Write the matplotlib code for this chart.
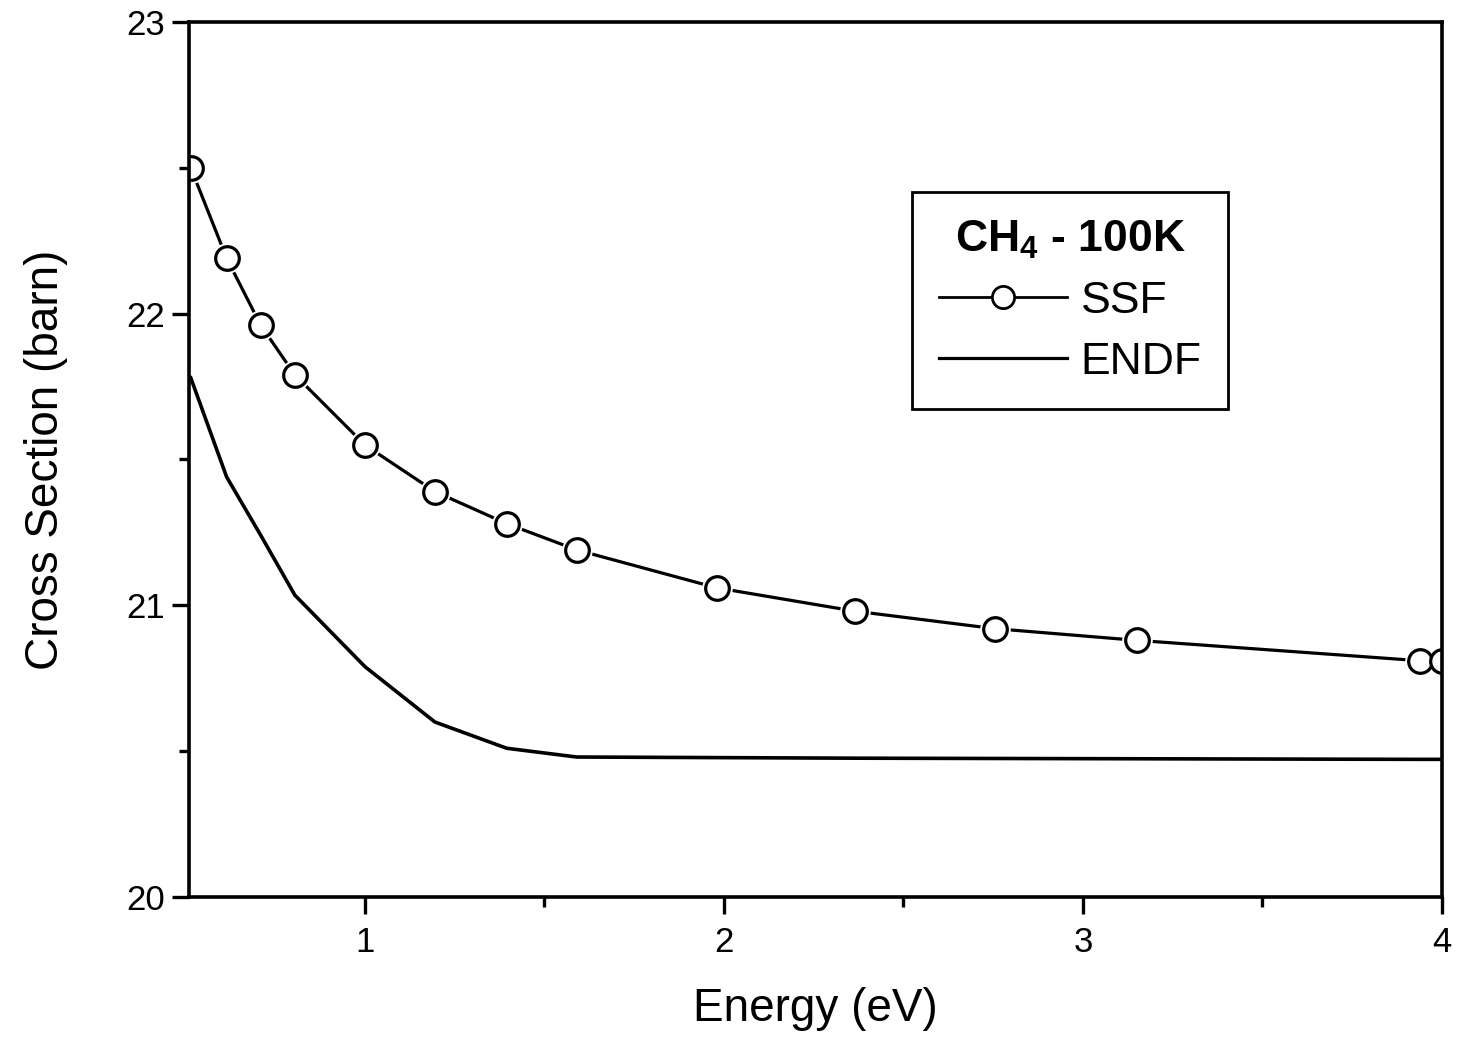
import matplotlib
matplotlib.use('Agg')
import matplotlib.pyplot as plt
from matplotlib.lines import Line2D
from matplotlib.ticker import MultipleLocator

plt.rcParams['font.family'] = ['Liberation Sans', 'DejaVu Sans']
plt.rcParams['mathtext.fontset'] = 'custom'
plt.rcParams['mathtext.rm'] = 'Liberation Sans'
plt.rcParams['mathtext.bf'] = 'Liberation Sans:bold'
plt.rcParams['xtick.labelsize'] = 25
plt.rcParams['ytick.labelsize'] = 25

# data
energy = [0.515, 0.615, 0.71, 0.805, 1.0, 1.195, 1.395, 1.59, 1.98, 2.365, 2.755, 3.15, 3.94, 4.0]
ssf = [22.50, 22.19, 21.96, 21.79, 21.55, 21.39, 21.28, 21.19, 21.06, 20.98, 20.92, 20.88, 20.81, 20.81]
endf = [21.78, 21.44, 21.24, 21.035, 20.79, 20.60, 20.51, 20.48, 20.478, 20.476, 20.475, 20.474, 20.472, 20.472]

fig = plt.figure(figsize=(14.58, 10.41), dpi=100)
ax = fig.add_axes([0.1296, 0.1383, 0.8594, 0.8406])

ax.plot(energy, endf, color='k', lw=2.6)
ax.plot(energy, ssf, color='k', lw=2.3)
# white halo so the line stops short of each circle
ax.plot(energy, ssf, 'o', ms=22, mfc='white', mec='white', mew=0)
ax.plot(energy, ssf, 'o', ms=17, mfc='white', mec='k', mew=2.3)

ax.set_xlim(0.51, 4.0)
ax.set_ylim(20, 23)
ax.xaxis.set_major_locator(MultipleLocator(1))
ax.xaxis.set_minor_locator(MultipleLocator(0.5))
ax.yaxis.set_major_locator(MultipleLocator(1))
ax.yaxis.set_minor_locator(MultipleLocator(0.5))

ax.tick_params(which='both', direction='out', top=False, right=False, width=2.4)
ax.tick_params(which='major', length=12)
ax.tick_params(axis='x', which='major', pad=9)
ax.tick_params(axis='y', which='major', pad=5)
ax.tick_params(which='minor', length=7)
for s in ax.spines.values():
    s.set_linewidth(2.6)

ax.set_xlabel('Energy (eV)', fontsize=33, labelpad=20)
ax.set_ylabel('Cross Section (barn)', fontsize=33, labelpad=42)

handles = [
    Line2D([], [], color='k', lw=2.0, marker='o', ms=16, mfc='white', mec='k', mew=2.0),
    Line2D([], [], color='k', lw=2.3),
]
leg = ax.legend(handles, ['SSF', 'ENDF'], title='CH$_\\mathbf{4}$ - 100K',
                loc='upper left', bbox_to_anchor=(0.577, 0.806), borderaxespad=0,
                fontsize=32, title_fontproperties={'size': 32, 'weight': 'bold'},
                frameon=True, fancybox=False, edgecolor='k', framealpha=1,
                handlelength=2.9, handletextpad=0.3, labelspacing=0.45,
                borderpad=0.6)
leg.get_frame().set_linewidth(2.0)

fig.savefig('out.png', dpi=100)
